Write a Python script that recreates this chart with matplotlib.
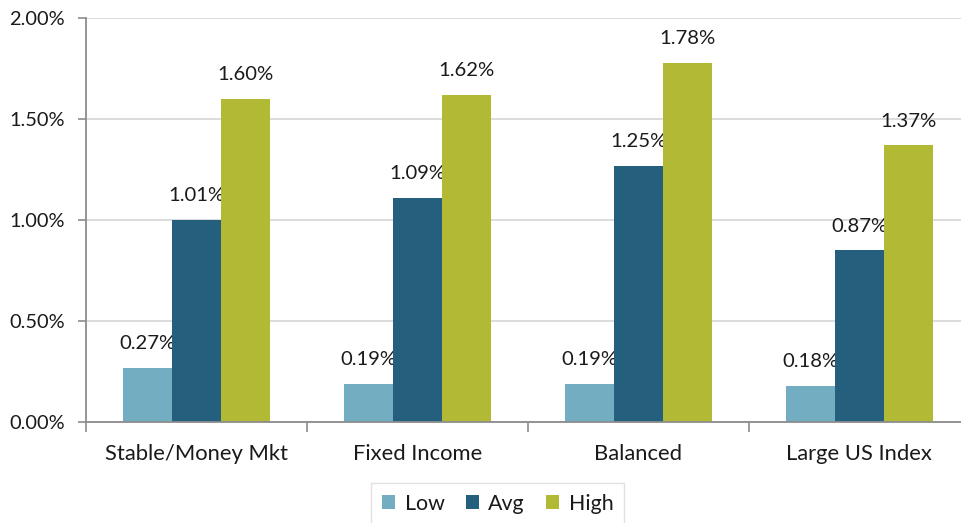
"""
plot.py: Grouped bar chart of low / average / high expense ratios by fund type.
"""

import matplotlib
matplotlib.use("Agg")
import matplotlib.pyplot as plt
from matplotlib.ticker import FuncFormatter
import numpy as np

# Data (percent)
categories = ["Stable/Money Mkt", "Fixed Income", "Balanced", "Large US Index"]
series_names = ["Low", "Avg", "High"]
low_values = [0.27, 0.19, 0.19, 0.18]
avg_values = [1.00, 1.11, 1.27, 0.85]
high_values = [1.60, 1.62, 1.78, 1.37]
low_labels = ["0.27%", "0.19%", "0.19%", "0.18%"]
avg_labels = ["1.01%", "1.09%", "1.25%", "0.87%"]
high_labels = ["1.60%", "1.62%", "1.78%", "1.37%"]
y_ticks = [0.0, 0.5, 1.0, 1.5, 2.0]

colors = ["#72ADC1", "#255F7E", "#B2B935"]

plt.rcParams["font.family"] = ["Lato", "DejaVu Sans"]

fig = plt.figure(figsize=(9.61, 5.23), dpi=100)
ax = fig.add_axes([86 / 961, 1 - 422 / 523, 1 - 86 / 961, (422 - 18.3) / 523])

x = np.arange(len(categories))
width = 0.222
all_values = [low_values, avg_values, high_values]
all_labels = [low_labels, avg_labels, high_labels]

# Draw the bars and the value labels above them
for i, (vals, labs) in enumerate(zip(all_values, all_labels)):
    pos = x + (i - 1) * width
    ax.bar(pos, vals, width, color=colors[i], label=series_names[i], zorder=3)
    for px, v, lab in zip(pos, vals, labs):
        ax.annotate(lab, (px, v), xytext=(0, 17.5), textcoords="offset points",
                    ha="center", va="center", fontsize=14.6, color="#1a1a1a")

# Axis limits and ticks
ax.set_xlim(-0.5, 3.46)
ax.set_ylim(0, 2.0)
ax.set_yticks(y_ticks)
ax.yaxis.set_major_formatter(FuncFormatter(lambda v, p: "%.2f%%" % v))
ax.set_xticks(x)
ax.set_xticklabels(categories)
ax.set_xticks(np.arange(-0.5, 3.5, 1.0), minor=True)

ax.tick_params(axis="y", which="major", length=6, width=1.2, color="#8c8c8c",
               labelsize=14.4, pad=9, labelcolor="#1a1a1a")
ax.tick_params(axis="x", which="major", length=0, labelsize=15.8, pad=16, labelcolor="#1a1a1a")
ax.tick_params(axis="x", which="minor", length=7, width=1.2, color="#8c8c8c")

# Grid and spines
ax.grid(axis="y", color="#d9d9d9", linewidth=1.3, zorder=0)
for side in ["top", "right"]:
    ax.spines[side].set_visible(False)
for side in ["left", "bottom"]:
    ax.spines[side].set_color("#8c8c8c")
    ax.spines[side].set_linewidth(1.3)
ax.spines["bottom"].set_zorder(4)

# Legend at the bottom
fig.legend(loc="upper center", bbox_to_anchor=(0.518, 1 - 483 / 523), ncol=3,
           fontsize=15.4, frameon=True, fancybox=False, edgecolor="#d9d9d9",
           handlelength=0.6, handleheight=0.6, handletextpad=0.45,
           columnspacing=1.0, borderpad=0.5, borderaxespad=0,
           labelcolor="#1a1a1a")

fig.savefig("out.png", dpi=100)
